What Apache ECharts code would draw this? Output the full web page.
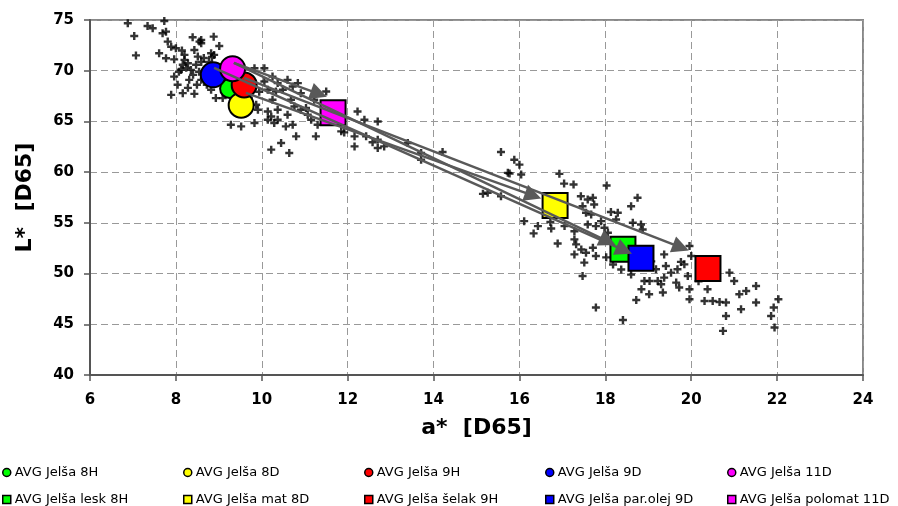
<!DOCTYPE html>
<html style="height: 100%">
<head>
<meta charset="utf-8">
<script src="https://cdn.jsdelivr.net/npm/echarts@6/dist/echarts.min.js"></script>
</head>
<body style="height: 100%; margin: 0; background: #fff">
<div id="container" style="width: 898px; height: 506px"></div>
<script type="text/javascript">
var plusUpper = [
    [6.88,74.68],[7.34,74.41],[7.46,74.18],[7.73,74.90],[7.03,73.43],[7.77,73.85],[7.69,73.69],[7.81,72.87],[7.89,72.37],[8.00,72.22],
    [7.07,71.51],[7.61,71.73],[7.77,71.23],[7.96,71.12],[8.14,72.00],[8.20,71.56],[8.39,73.30],[8.55,72.87],[8.59,72.71],[8.88,73.36],
    [9.01,72.44],[8.43,72.05],[8.51,71.39],[8.89,71.56],[8.16,70.58],[8.28,70.74],[8.35,70.08],[7.96,69.42],[8.04,68.61],[8.16,67.79],
    [7.89,67.62],[8.43,67.72],[8.93,67.30],[9.09,67.30],[9.28,64.68],[9.52,64.51],[9.83,64.84],[10.14,65.17],[10.29,64.84],[8.12,70.08],
    [8.20,71.07],[8.59,73.03],[8.47,70.58],[8.59,70.87],[8.70,70.08],[8.54,69.89],[8.40,69.59],[8.65,69.30],[8.77,70.87],[8.59,69.10],
    [8.49,68.61],[8.31,69.10],[8.72,68.61],[8.82,68.12],[8.24,70.28],[8.65,71.26],[8.84,71.36],[8.82,71.73],[8.07,69.89],[8.28,68.31]
];
var plusNear = [
    [9.83,70.25],[10.06,70.25],[10.25,69.42],[10.06,68.93],[10.14,68.12],[10.25,67.13],[10.37,68.78],[10.49,68.12],[10.60,69.10],[10.72,68.44],
    [10.84,68.78],[10.91,67.79],[10.14,65.98],[10.22,65.49],[10.37,66.15],[10.60,65.66],[10.76,66.47],[10.91,66.15],[11.07,65.66],[11.15,65.17],
    [10.56,64.51],[10.72,64.68],[10.80,63.53],[11.26,63.53],[10.45,62.88],[10.22,62.22],[10.64,61.89],[11.50,67.95],[11.22,67.13],[11.85,64.02],
    [12.16,63.53],[12.23,65.98],[12.39,65.17],[12.70,65.00],[12.16,62.54],[12.70,62.38],[12.85,62.54],[12.70,63.20],[11.92,63.92],[12.43,63.53],
    [12.58,62.94],[10.33,67.95],[10.68,67.13],[11.03,66.32],[9.91,66.15],[10.37,65.17],[11.30,64.68],[9.70,67.33],[9.87,66.64],[9.63,65.95],[9.94,67.92]
];
var plusMiddle = [
    [13.40,62.88],[13.71,61.89],[14.21,61.99],[13.71,61.23],[15.57,61.99],[15.88,61.23],[16.00,60.74],[15.73,59.93],[16.04,59.76],[15.15,57.86],
    [15.26,57.96],[15.57,57.63],[16.93,59.83],[17.04,58.87],[17.26,58.78],[18.03,58.68],[17.43,57.63],[17.59,57.30],[17.71,57.47],[17.47,56.64],
    [17.74,56.81],[17.55,55.99],[17.67,55.83],[18.75,57.47],[18.60,56.64],[18.13,56.07],[18.29,55.99],[18.25,55.33],[16.11,55.17],[16.43,54.68],
    [16.33,53.96],[16.72,55.09],[16.74,54.45],[17.05,54.68],[17.28,54.18],[17.28,53.37],[17.32,52.88],[16.89,52.97],[17.59,54.84],[17.78,54.68],
    [17.90,55.17],[17.98,54.52],[18.64,55.01],[18.83,54.84],[18.87,54.35],[17.55,52.06],[17.51,51.08],[17.47,49.76],[17.71,52.55],[17.78,51.73],
    [19.37,51.89],[19.41,50.74],[19.76,51.15],[19.96,52.71],[20.00,51.73],[19.84,50.91],[17.28,51.89],[17.44,52.38],[15.77,59.86],[18.06,54.02]
];
var plusLower = [
    [17.78,46.65],[18.41,45.43],[18.72,47.40],[18.84,48.45],[18.91,49.27],[19.03,49.27],[19.22,49.27],[19.37,49.60],[19.53,50.09],[19.34,48.13],
    [19.65,49.11],[19.92,49.76],[19.96,48.45],[19.72,48.62],[19.96,47.47],[19.68,50.42],[20.89,50.09],[21.00,49.27],[21.28,48.28],[21.12,47.96],
    [21.51,48.77],[20.38,48.45],[20.31,47.30],[20.50,47.30],[20.66,47.20],[20.81,47.14],[21.51,47.14],[21.16,46.48],[20.81,45.82],[20.74,44.35],
    [22.03,47.47],[21.92,46.65],[21.86,45.82],[21.94,44.68],[19.07,51.20],[19.18,50.42],[19.30,48.94],[19.02,47.96],[20.22,50.42],[20.17,49.24],
    [18.02,51.60],[18.18,50.90],[18.37,50.40],[18.60,49.90],[18.95,50.90]
];

// averages before (circles) and after finishing (squares)
var circleNames = ['AVG Jelša 8H', 'AVG Jelša 8D', 'AVG Jelša 9H', 'AVG Jelša 9D', 'AVG Jelša 11D'];
var circleValues = [[9.25, 68.25], [9.52, 66.6], [9.59, 68.6], [8.87, 69.6], [9.32, 70.2]];
var squareNames = ['AVG Jelša lesk 8H', 'AVG Jelša mat 8D', 'AVG Jelša šelak 9H', 'AVG Jelša par.olej 9D', 'AVG Jelša polomat 11D'];
var squareValues = [[18.41, 52.4], [16.83, 56.7], [20.39, 50.5], [18.83, 51.5], [11.66, 65.85]];
var colors = ['#00ff00', '#ffff00', '#ff0000', '#0000ff', '#ff00ff'];
var circleSizes = [19, 25, 25, 25, 25];

// arrows (start -> tip)
var arrowFrom = [[9.35, 70.77], [9.63, 67.82], [9.59, 69.30], [9.35, 70.77], [8.89, 70.28]];
var arrowTo = [[11.33, 67.72], [16.32, 57.69], [19.76, 52.58], [18.06, 53.17], [18.44, 52.29]];

var xTicks = { min: 6, max: 24, step: 2 };
var yTicks = { min: 40, max: 75, step: 5 };

var plusPath = 'path://M3,0h2.6v3h3v2.6h-3v3h-2.6v-3h-3v-2.6h3z';
var font = 'DejaVu Sans';

var series = [{
    type: 'scatter',
    name: 'points',
    symbol: plusPath,
    symbolSize: 8,
    itemStyle: { color: '#000' },
    data: plusUpper.concat(plusNear, plusMiddle, plusLower),
    z: 1
}];
circleNames.forEach(function (n, i) {
    series.push({
        type: 'scatter', name: n, symbol: 'circle', symbolSize: circleSizes[i],
        itemStyle: { color: colors[i], borderColor: '#000', borderWidth: 2, opacity: 1 },
        data: [circleValues[i]], z: 2
    });
});
squareNames.forEach(function (n, i) {
    series.push({
        type: 'scatter', name: n, symbol: 'rect', symbolSize: 25,
        itemStyle: { color: colors[i], borderColor: '#000', borderWidth: 2, opacity: 1 },
        data: [squareValues[i]], z: 2
    });
});
series.push({
    type: 'lines',
    coordinateSystem: 'cartesian2d',
    symbol: ['none', 'triangle'],
    symbolSize: [13, 17],
    symbolOffset: [0, 8],
    lineStyle: { color: '#595959', width: 2.5, opacity: 1 },
    data: arrowFrom.map(function (p, i) { return { coords: [p, arrowTo[i]] }; }),
    z: 3
});

var colX = [2, 183, 364, 545, 727];
var rowY = [466, 493];
var legends = [];
circleNames.concat(squareNames).forEach(function (n, i) {
    legends.push({
        data: [{ name: n, icon: i < 5 ? 'circle' : 'rect' }],
        left: colX[i % 5],
        top: rowY[i < 5 ? 0 : 1],
        padding: 0,
        itemWidth: 8,
        itemHeight: 8,
        itemGap: 0,
        itemStyle: { borderColor: '#000', borderWidth: 1.5 },
        textStyle: { fontFamily: font, fontSize: 13, color: '#000', padding: [0, 0, 0, -1] }
    });
});

var dom = document.getElementById('container');
var myChart = echarts.init(dom);
var option = {
    animation: false,
    backgroundColor: '#fff',
    grid: { left: 90, right: 35, top: 20, bottom: 131, show: true, borderColor: '#888', borderWidth: 2 },
    legend: legends,
    xAxis: {
        type: 'value',
        min: xTicks.min, max: xTicks.max, interval: xTicks.step,
        name: 'a*  [D65]',
        nameLocation: 'middle',
        nameGap: 42,
        nameTextStyle: { fontFamily: font, fontSize: 22, fontWeight: 'bold', color: '#000' },
        axisLine: { lineStyle: { color: '#555', width: 2 } },
        axisTick: { length: 6, lineStyle: { color: '#555', width: 1.5 } },
        axisLabel: { margin: 18, fontFamily: font, fontSize: 15, fontWeight: 'bold', color: '#000' },
        splitLine: { lineStyle: { color: '#999', type: [7, 4], width: 1 } }
    },
    yAxis: {
        type: 'value',
        min: yTicks.min, max: yTicks.max, interval: yTicks.step,
        name: 'L*  [D65]',
        nameLocation: 'middle',
        nameGap: 54,
        nameTextStyle: { fontFamily: font, fontSize: 22, fontWeight: 'bold', color: '#000' },
        axisLine: { lineStyle: { color: '#555', width: 2 } },
        axisTick: { length: 6, lineStyle: { color: '#555', width: 1.5 } },
        axisLabel: { margin: 16, fontFamily: font, fontSize: 15, fontWeight: 'bold', color: '#000' },
        splitLine: { lineStyle: { color: '#999', type: [7, 4], width: 1 } }
    },
    series: series
};
if (option && typeof option === 'object') {
    myChart.setOption(option, true);
}
</script>
</body>
</html>
